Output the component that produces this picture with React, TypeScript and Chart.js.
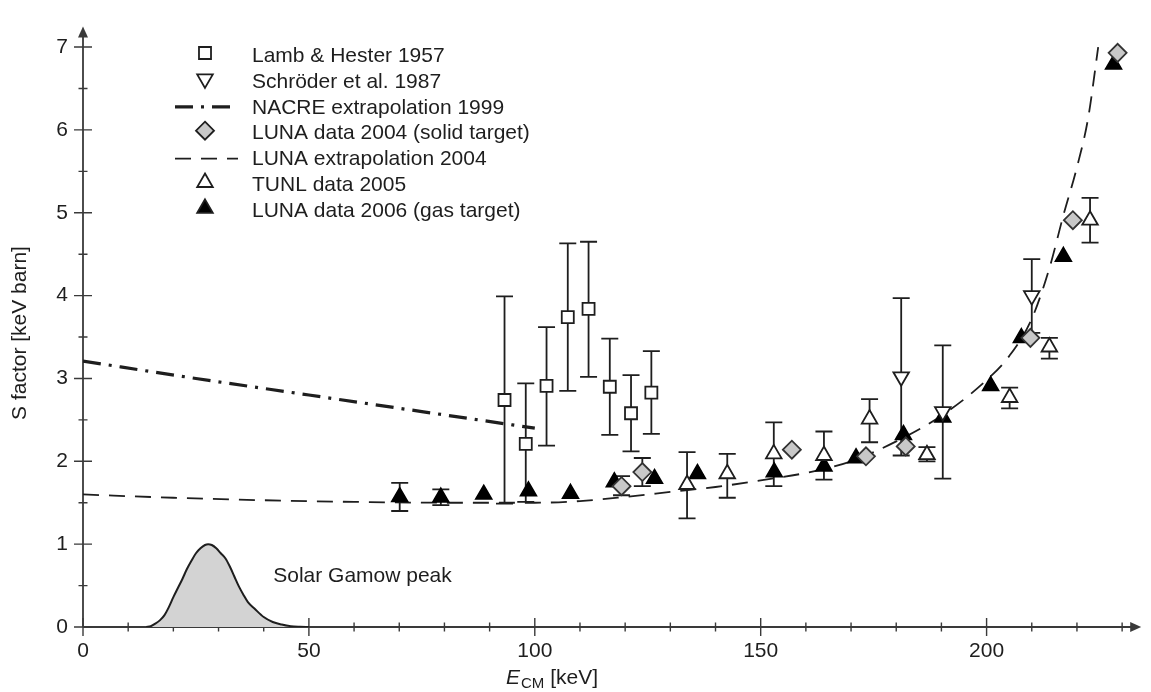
import React, { useEffect, useRef } from "react";
import { Chart, registerables } from "chart.js";

Chart.register(...registerables);

const FONT = '"Liberation Sans", Arial, Helvetica, sans-serif';
const INK = "#1e1e1e";
const AXIS = "#3a3a3a";
const FS = 21;

// ---- tick values ----
const xTickValues = [0, 10, 20, 30, 40, 50, 60, 70, 80, 90, 100, 110, 120, 130, 140, 150, 160, 170, 180, 190, 200, 210, 220, 230];
const xLabelValues = [0, 50, 100, 150, 200];
const yTickValues = [0, 0.5, 1, 1.5, 2, 2.5, 3, 3.5, 4, 4.5, 5, 5.5, 6, 6.5, 7];
const yLabelValues = [0, 1, 2, 3, 4, 5, 6, 7];

// ---- Lamb & Hester 1957 ----
const lhE = [93.3, 98.0, 102.6, 107.3, 111.9, 116.6, 121.3, 125.8];
const lhS = [2.74, 2.21, 2.91, 3.74, 3.84, 2.9, 2.58, 2.83];
const lhHi = [3.99, 2.94, 3.62, 4.63, 4.65, 3.48, 3.04, 3.33];
const lhLo = [1.49, 1.51, 2.19, 2.85, 3.02, 2.32, 2.12, 2.33];

// ---- Schröder et al. 1987 ----
const scE = [181.1, 190.3, 210.0];
const scS = [3.02, 2.6, 4.0];
const scHi = [3.97, 3.4, 4.44];
const scLo = [2.07, 1.79, 3.55];

// ---- NACRE extrapolation 1999 ----
const nacreE = [0, 25, 50, 75, 100];
const nacreS = [3.21, 3.0, 2.8, 2.6, 2.4];

// ---- LUNA data 2004 (solid target) ----
const l04E = [119.2, 123.8, 156.9, 173.3, 182.1, 209.7, 219.1, 229.0];
const l04S = [1.7, 1.87, 2.14, 2.06, 2.18, 3.49, 4.91, 6.93];
const l04Hi = [1.82, 2.04, NaN, NaN, NaN, NaN, NaN, NaN];
const l04Lo = [1.59, 1.7, NaN, NaN, NaN, NaN, NaN, NaN];

// ---- LUNA extrapolation 2004 ----
const lexE = [0, 20, 40, 60, 80, 100, 110, 120, 130, 140, 150, 160, 170, 180, 190, 200, 205, 210, 214, 217, 220, 222.5, 224.7];
const lexS = [1.6, 1.56, 1.53, 1.51, 1.5, 1.5, 1.52, 1.57, 1.63, 1.69, 1.77, 1.86, 2.0, 2.24, 2.55, 2.98, 3.27, 3.72, 4.35, 4.97, 5.55, 6.15, 7.0];

// ---- TUNL data 2005 ----
const tunlE = [133.7, 142.6, 152.9, 164.0, 174.1, 186.8, 205.1, 213.9, 222.9];
const tunlS = [1.72, 1.85, 2.09, 2.07, 2.51, 2.08, 2.77, 3.38, 4.91];
const tunlHi = [2.11, 2.09, 2.47, 2.36, 2.75, 2.17, 2.89, 3.49, 5.18];
const tunlLo = [1.31, 1.56, 1.7, 1.78, 2.23, 2.0, 2.64, 3.24, 4.64];

// ---- LUNA data 2006 (gas target) ----
const l06E = [70.1, 79.2, 88.7, 98.6, 107.9, 117.6, 126.5, 136.0, 153.0, 164.0, 171.1, 181.6, 190.3, 200.9, 207.7, 217.0, 228.1];
const l06S = [1.57, 1.565, 1.6, 1.64, 1.61, 1.75, 1.79, 1.85, 1.87, 1.94, 2.04, 2.32, 2.53, 2.91, 3.49, 4.47, 6.79];
const l06Hi = [1.74, 1.66, NaN, NaN, NaN, NaN, NaN, NaN, NaN, NaN, NaN, NaN, NaN, NaN, NaN, NaN, NaN];
const l06Lo = [1.4, 1.47, NaN, NaN, NaN, NaN, NaN, NaN, NaN, NaN, NaN, NaN, NaN, NaN, NaN, NaN, NaN];

// ---- Solar Gamow peak (arbitrary units) ----
const gamowE = [14, 15, 16, 17, 18, 19, 20, 21, 22, 23, 24, 25, 26, 27, 27.7, 28.5, 29.5, 30.5, 31.5, 32.5, 33.5, 34.5, 35.5, 36.5, 38, 40, 42, 44, 46, 48, 50];
const gamowY = [0, 0.01, 0.04, 0.08, 0.14, 0.24, 0.36, 0.47, 0.58, 0.7, 0.8, 0.89, 0.95, 0.99, 1.0, 0.99, 0.95, 0.89, 0.83, 0.73, 0.61, 0.49, 0.39, 0.3, 0.22, 0.12, 0.06, 0.03, 0.01, 0.003, 0];
const gamowLabel = { text: "Solar Gamow peak", x: 42.1, y: 0.61 };

const pts = (xs: number[], ys: number[], hi?: number[], lo?: number[]) =>
  xs.map((x, i) => ({ x, y: ys[i], yMax: hi ? hi[i] : NaN, yMin: lo ? lo[i] : NaN }));

function drawMarker(ctx: CanvasRenderingContext2D, style: string, x: number, y: number, r: number, fill: string, stroke: string, lw: number) {
  ctx.save();
  ctx.beginPath();
  if (style === "rect") {
    const s = Math.SQRT1_2 * r;
    ctx.rect(x - s, y - s, 2 * s, 2 * s);
  } else if (style === "diamond") {
    ctx.moveTo(x, y - r);
    ctx.lineTo(x + r, y);
    ctx.lineTo(x, y + r);
    ctx.lineTo(x - r, y);
    ctx.closePath();
  } else if (style === "tri" || style === "triDown") {
    const d = style === "tri" ? 1 : -1;
    const w = r * Math.sin(Math.PI / 3);
    ctx.moveTo(x, y - d * r);
    ctx.lineTo(x + w, y + d * r / 2);
    ctx.lineTo(x - w, y + d * r / 2);
    ctx.closePath();
  }
  ctx.fillStyle = fill;
  ctx.fill();
  ctx.lineWidth = lw;
  ctx.strokeStyle = stroke;
  ctx.stroke();
  ctx.restore();
}

const legendItems = [
  { label: "Lamb & Hester 1957", kind: "marker", style: "rect", r: 8.5, fill: "#ffffff" },
  { label: "Schröder et al. 1987", kind: "marker", style: "triDown", r: 9, fill: "#ffffff" },
  { label: "NACRE extrapolation 1999", kind: "line", dash: [18, 8, 3, 8], lw: 3.2 },
  { label: "LUNA data 2004 (solid target)", kind: "marker", style: "diamond", r: 9, fill: "#c8c8c8" },
  { label: "LUNA extrapolation 2004", kind: "line", dash: [16, 10], lw: 1.8 },
  { label: "TUNL data 2005", kind: "marker", style: "tri", r: 9, fill: "#ffffff" },
  { label: "LUNA data 2006 (gas target)", kind: "marker", style: "tri", r: 9, fill: "#000000" },
];

const axesPlugin = {
  id: "axesPlugin",
  beforeDatasetsDraw(chart: any) {
    const { ctx, chartArea, scales } = chart;
    const xs = scales.x;
    const ys = scales.y;
    const x0 = chartArea.left;
    const y0 = chartArea.bottom;
    ctx.save();
    ctx.strokeStyle = AXIS;
    ctx.fillStyle = AXIS;
    ctx.lineWidth = 1.8;
    // axis lines
    ctx.beginPath();
    ctx.moveTo(x0, y0);
    ctx.lineTo(chartArea.right - 6, y0);
    ctx.moveTo(x0, y0);
    ctx.lineTo(x0, chartArea.top + 6);
    ctx.stroke();
    // arrows
    ctx.beginPath();
    ctx.moveTo(chartArea.right + 1, y0);
    ctx.lineTo(chartArea.right - 10, y0 - 5);
    ctx.lineTo(chartArea.right - 10, y0 + 5);
    ctx.closePath();
    ctx.fill();
    ctx.beginPath();
    ctx.moveTo(x0, chartArea.top - 1);
    ctx.lineTo(x0 - 5, chartArea.top + 10);
    ctx.lineTo(x0 + 5, chartArea.top + 10);
    ctx.closePath();
    ctx.fill();
    // ticks
    ctx.lineWidth = 1.4;
    ctx.beginPath();
    xs.ticks.forEach((t: any) => {
      const px = xs.getPixelForValue(t.value);
      const len = xLabelValues.includes(t.value) ? 9 : 4.5;
      ctx.moveTo(px, y0 - len);
      ctx.lineTo(px, y0 + len);
    });
    ys.ticks.forEach((t: any) => {
      const py = ys.getPixelForValue(t.value);
      const len = yLabelValues.includes(t.value) ? 9 : 4.5;
      ctx.moveTo(x0 - len, py);
      ctx.lineTo(x0 + len, py);
    });
    ctx.stroke();
    ctx.restore();
  },
};

const errorBarPlugin = {
  id: "errorBars",
  beforeDatasetsDraw(chart: any) {
    const { ctx, scales } = chart;
    const xs = scales.x;
    const ys = scales.y;
    ctx.save();
    ctx.strokeStyle = INK;
    ctx.lineWidth = 1.8;
    chart.data.datasets.forEach((ds: any, i: number) => {
      if (!chart.isDatasetVisible(i) || !ds.errorBars) return;
      ds.data.forEach((p: any) => {
        if (!isFinite(p.yMax) || !isFinite(p.yMin)) return;
        const px = xs.getPixelForValue(p.x);
        const a = ys.getPixelForValue(p.yMax);
        const b = ys.getPixelForValue(p.yMin);
        ctx.beginPath();
        ctx.moveTo(px, a);
        ctx.lineTo(px, b);
        ctx.moveTo(px - 8.5, a);
        ctx.lineTo(px + 8.5, a);
        ctx.moveTo(px - 8.5, b);
        ctx.lineTo(px + 8.5, b);
        ctx.stroke();
      });
    });
    ctx.restore();
  },
};

const textPlugin = {
  id: "texts",
  afterDraw(chart: any) {
    const { ctx, scales, chartArea } = chart;
    ctx.save();
    ctx.fillStyle = INK;
    ctx.textBaseline = "middle";
    ctx.font = `${FS}px ${FONT}`;
    // Gamow label
    ctx.textAlign = "left";
    ctx.fillText(gamowLabel.text, scales.x.getPixelForValue(gamowLabel.x), scales.y.getPixelForValue(gamowLabel.y));
    // legend
    const mx = 205;
    const tx = 252;
    legendItems.forEach((it: any, i: number) => {
      const yy = 55 + i * 25.9;
      if (it.kind === "marker") {
        drawMarker(ctx, it.style, mx, yy - 2, it.r, it.fill, INK, 1.8);
      } else {
        ctx.save();
        ctx.strokeStyle = INK;
        ctx.lineWidth = it.lw;
        ctx.setLineDash(it.dash);
        ctx.beginPath();
        ctx.moveTo(mx - 30, yy);
        ctx.lineTo(mx + 33, yy);
        ctx.stroke();
        ctx.restore();
      }
      ctx.fillStyle = INK;
      ctx.font = `${FS}px ${FONT}`;
      ctx.textAlign = "left";
      ctx.fillText(it.label, tx, yy + 1);
    });
    // y title
    ctx.save();
    ctx.translate(20, 333);
    ctx.rotate(-Math.PI / 2);
    ctx.textAlign = "center";
    ctx.font = `${FS}px ${FONT}`;
    ctx.fillText("S factor [keV barn]", 0, 0);
    ctx.restore();
    // x title: E_CM [keV]
    const yb = 678;
    const fE = `italic ${FS}px ${FONT}`;
    const fSub = `${Math.round(FS * 0.72)}px ${FONT}`;
    const fN = `${FS}px ${FONT}`;
    ctx.font = fE;
    const wE = ctx.measureText("E").width;
    ctx.font = fSub;
    const wS = ctx.measureText("CM").width;
    ctx.font = fN;
    const wK = ctx.measureText(" [keV]").width;
    let cx = 552 - (wE + wS + 1 + wK) / 2;
    ctx.textAlign = "left";
    ctx.font = fE;
    ctx.fillText("E", cx, yb);
    cx += wE + 1;
    ctx.font = fSub;
    ctx.fillText("CM", cx, yb + 6);
    cx += wS;
    ctx.font = fN;
    ctx.fillText(" [keV]", cx, yb);
    ctx.restore();
  },
};

export default function App() {
  const ref = useRef<HTMLCanvasElement>(null);
  useEffect(() => {
    if (!ref.current) return;
    const openMarker = (style: string, r: number, rot = 0) => ({
      pointStyle: style,
      pointRadius: r,
      pointHoverRadius: r,
      pointRotation: rot,
      pointBackgroundColor: "#ffffff",
      pointBorderColor: INK,
      pointBorderWidth: 1.8,
      showLine: false,
    });
    const chart = new Chart(ref.current, {
      type: "scatter",
      data: {
        datasets: [
          {
            label: "LUNA data 2004 (solid target)",
            data: pts(l04E, l04S, l04Hi, l04Lo),
            errorBars: true,
            ...openMarker("rectRot", 9),
            pointBackgroundColor: "#c8c8c8",
            pointBorderColor: "#333333",
          } as any,
          {
            label: "TUNL data 2005",
            data: pts(tunlE, tunlS, tunlHi, tunlLo),
            errorBars: true,
            ...openMarker("triangle", 9),
          } as any,
          {
            label: "Lamb & Hester 1957",
            data: pts(lhE, lhS, lhHi, lhLo),
            errorBars: true,
            ...openMarker("rect", 8.5),
          } as any,
          {
            label: "Schröder et al. 1987",
            data: pts(scE, scS, scHi, scLo),
            errorBars: true,
            ...openMarker("triangle", 9, 180),
          } as any,
          {
            label: "LUNA data 2006 (gas target)",
            data: pts(l06E, l06S, l06Hi, l06Lo),
            errorBars: true,
            ...openMarker("triangle", 9),
            pointBackgroundColor: "#000000",
            pointBorderColor: "#000000",
          } as any,
          {
            type: "line",
            label: "LUNA extrapolation 2004",
            data: pts(lexE, lexS),
            showLine: true,
            borderColor: INK,
            borderWidth: 1.8,
            borderDash: [16, 10],
            pointRadius: 0,
            cubicInterpolationMode: "monotone",
            fill: false,
          } as any,
          {
            type: "line",
            label: "NACRE extrapolation 1999",
            data: pts(nacreE, nacreS),
            showLine: true,
            borderColor: INK,
            borderWidth: 3.2,
            borderDash: [18, 8, 3, 8],
            pointRadius: 0,
            cubicInterpolationMode: "monotone",
            fill: false,
          } as any,
          {
            type: "line",
            label: "Solar Gamow peak",
            data: pts(gamowE, gamowY),
            showLine: true,
            borderColor: INK,
            borderWidth: 2,
            backgroundColor: "#d3d3d3",
            pointRadius: 0,
            cubicInterpolationMode: "monotone",
            fill: "origin",
          } as any,
        ],
      },
      options: {
        animation: false,
        responsive: false,
        events: [],
        layout: { padding: { top: 12, right: 1, left: 0, bottom: 0 } },
        plugins: {
          legend: { display: false },
          tooltip: { enabled: false },
          title: { display: false },
        },
        scales: {
          x: {
            type: "linear",
            min: 0,
            max: 234,
            afterBuildTicks: (s: any) => {
              s.ticks = xTickValues.map((v) => ({ value: v }));
            },
            afterFit: (s: any) => {
              s.height = 65;
            },
            grid: { display: false, drawTicks: false },
            border: { display: false },
            ticks: {
              autoSkip: false,
              maxRotation: 0,
              padding: 12,
              color: INK,
              font: { family: FONT, size: FS },
              callback: (v: any) => (xLabelValues.includes(Number(v)) ? String(v) : ""),
            },
          },
          y: {
            type: "linear",
            min: 0,
            max: 7.235,
            afterBuildTicks: (s: any) => {
              s.ticks = yTickValues.map((v) => ({ value: v }));
            },
            afterFit: (s: any) => {
              s.width = 83;
            },
            grid: { display: false, drawTicks: false },
            border: { display: false },
            ticks: {
              autoSkip: false,
              padding: 15,
              color: INK,
              font: { family: FONT, size: FS },
              callback: (v: any) => (yLabelValues.includes(Number(v)) ? String(v) : ""),
            },
          },
        },
      } as any,
      plugins: [axesPlugin, errorBarPlugin, textPlugin],
    });
    return () => chart.destroy();
  }, []);
  return (
    <div style={{ position: "fixed", left: 0, top: 0, width: 1151, height: 692, background: "#ffffff" }}>
      <canvas ref={ref} width={1151} height={692} style={{ display: "block" }} />
    </div>
  );
}
